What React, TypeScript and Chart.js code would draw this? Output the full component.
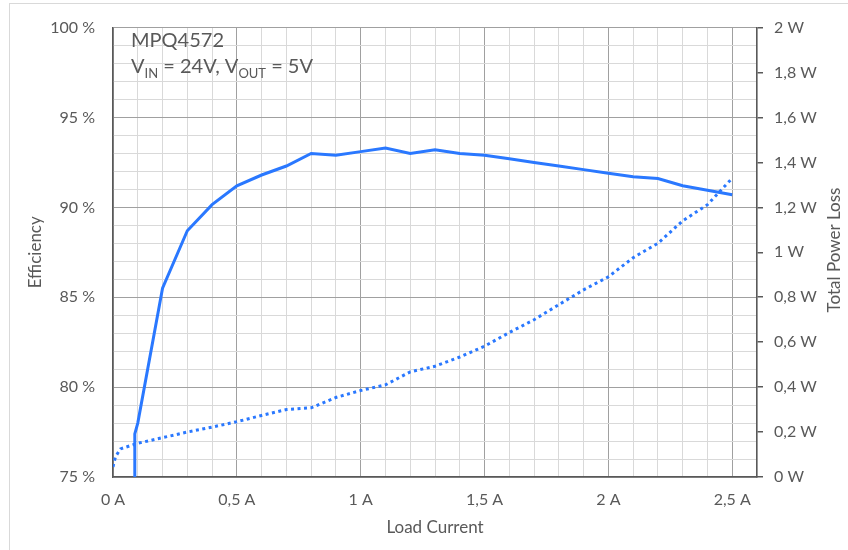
import React, { useEffect, useRef } from 'react';
import { Chart, registerables } from 'chart.js';

Chart.register(...registerables);

// ---- data ----
const effCurrent = [0.085, 0.088, 0.1, 0.2, 0.3, 0.4, 0.5, 0.6, 0.7, 0.8, 0.9, 1.0, 1.1, 1.2, 1.3, 1.4, 1.5, 1.6, 1.7, 1.8, 1.9, 2.0, 2.1, 2.2, 2.3, 2.4, 2.5];
const efficiency = [62, 77.4, 78.0, 85.5, 88.7, 90.15, 91.2, 91.8, 92.3, 93.0, 92.9, 93.1, 93.3, 93.0, 93.2, 93.0, 92.9, 92.7, 92.5, 92.3, 92.1, 91.9, 91.7, 91.6, 91.2, 90.95, 90.7];

const lossCurrent = [0, 0.01, 0.03, 0.1, 0.2, 0.3, 0.4, 0.5, 0.6, 0.7, 0.8, 0.9, 1.0, 1.1, 1.2, 1.3, 1.4, 1.5, 1.6, 1.7, 1.8, 1.9, 2.0, 2.1, 2.2, 2.3, 2.4, 2.5];
const powerLoss = [0.045, 0.09, 0.125, 0.15, 0.175, 0.2, 0.222, 0.246, 0.274, 0.3, 0.308, 0.354, 0.385, 0.41, 0.468, 0.493, 0.534, 0.582, 0.643, 0.7, 0.767, 0.833, 0.891, 0.976, 1.04, 1.14, 1.212, 1.33];

const titleMain = 'MPQ4572';
const xTitle = 'Load Current';
const yTitle = 'Efficiency';
const y1Title = 'Total Power Loss';

const FONT = 'Lato, "Open Sans", sans-serif';
const TXT = '#595959';
const AXIS = '#595959';
const MAJOR = '#a0a0a0';
const MINOR = '#d9d9d9';
const BLUE = '#2a78ff';

const isMult = (v: number, m: number) => Math.abs(v / m - Math.round(v / m)) < 1e-6;
const fmt = (v: number) => String(Math.round(v * 100) / 100).replace('.', ',');

const decorPlugin = {
  id: 'decor',
  beforeDraw(chart: any) {
    const ctx = chart.ctx;
    ctx.save();
    ctx.strokeStyle = '#d9d9d9';
    ctx.lineWidth = 1;
    ctx.strokeRect(9.5, 3.5, 900, 600);
    ctx.restore();
  },
  afterDraw(chart: any) {
    const ctx = chart.ctx;
    ctx.save();
    ctx.fillStyle = TXT;
    ctx.textBaseline = 'alphabetic';
    ctx.textAlign = 'left';
    ctx.font = `20px ${FONT}`;
    ctx.fillText(titleMain, 131, 47);
    // V_IN = 24V, V_OUT = 5V
    let x = 131;
    const big = `20px ${FONT}`;
    const small = `13px ${FONT}`;
    const parts: [string, boolean][] = [['V', false], ['IN', true], [' = 24V, V', false], ['OUT', true], [' = 5V', false]];
    for (const [t, sub] of parts) {
      ctx.font = sub ? small : big;
      ctx.fillText(t, x, sub ? 78 : 73);
      x += ctx.measureText(t).width;
    }
    // right axis title
    ctx.font = `17px ${FONT}`;
    ctx.translate(835, 250);
    ctx.rotate(-Math.PI / 2);
    ctx.textAlign = 'center';
    ctx.textBaseline = 'middle';
    ctx.fillText(y1Title, 0, 0);
    ctx.restore();
  },
};

export default function App() {
  const ref = useRef<HTMLCanvasElement | null>(null);
  useEffect(() => {
    if (!ref.current) return;
    const chart = new Chart(ref.current, {
      type: 'line',
      data: {
        datasets: [
          {
            label: 'Efficiency',
            data: effCurrent.map((c, i) => ({ x: c, y: efficiency[i] })),
            borderColor: BLUE,
            borderWidth: 3,
            pointRadius: 0,
            tension: 0,
            yAxisID: 'y',
            fill: false,
          },
          {
            label: 'Total Power Loss',
            data: lossCurrent.map((c, i) => ({ x: c, y: powerLoss[i] })),
            borderColor: BLUE,
            borderWidth: 3,
            borderDash: [3, 3.5],
            pointRadius: 0,
            tension: 0,
            yAxisID: 'y1',
            fill: false,
          },
        ],
      },
      options: {
        animation: false,
        responsive: false,
        events: [],
        layout: { padding: { top: 20, left: 0, right: 0, bottom: 0 } },
        plugins: { legend: { display: false }, tooltip: { enabled: false } },
        scales: {
          x: {
            type: 'linear',
            position: 'bottom',
            min: 0,
            max: 2.6,
            ticks: {
              stepSize: 0.1,
              autoSkip: false,
              maxRotation: 0,
              padding: 13,
              color: TXT,
              font: { family: FONT, size: 16 },
              callback: (v: any) => (isMult(Number(v), 0.5) ? `${fmt(Number(v))} A` : ''),
            },
            grid: {
              drawTicks: false,
              lineWidth: 1,
              color: (c: any) => (c.tick && isMult(c.tick.value, 0.5) ? MAJOR : MINOR),
            },
            border: { color: AXIS, width: 1.5 },
            title: { display: true, text: xTitle, color: TXT, font: { family: FONT, size: 17 }, padding: { top: 0, bottom: 12 } },
            afterFit: (s: any) => { s.height = 73; },
          },
          y: {
            type: 'linear',
            position: 'left',
            min: 75,
            max: 100,
            ticks: {
              stepSize: 1,
              autoSkip: false,
              padding: 18,
              color: TXT,
              font: { family: FONT, size: 16 },
              callback: (v: any) => (isMult(Number(v), 5) ? `${v} %` : ''),
            },
            grid: {
              drawTicks: false,
              lineWidth: 1,
              color: (c: any) => (c.tick && isMult(c.tick.value, 5) ? MAJOR : MINOR),
            },
            border: { color: AXIS, width: 1.5 },
            title: { display: true, text: yTitle, color: TXT, font: { family: FONT, size: 17 }, padding: { top: 25, bottom: 0 } },
            afterFit: (s: any) => { s.width = 113; },
          },
          y1: {
            type: 'linear',
            position: 'right',
            min: 0,
            max: 2,
            ticks: {
              stepSize: 0.2,
              autoSkip: false,
              padding: 11,
              color: TXT,
              font: { family: FONT, size: 16 },
              callback: (v: any) => `${fmt(Number(v))} W`,
            },
            grid: { drawOnChartArea: false, drawTicks: true, tickLength: 6, color: AXIS, lineWidth: 1.5 },
            border: { color: AXIS, width: 1.5 },
            afterFit: (s: any) => { s.width = 91; },
          },
        },
      } as any,
      plugins: [decorPlugin],
    });
    return () => chart.destroy();
  }, []);
  return (
    <div style={{ position: 'fixed', left: 0, top: 0, width: 848, height: 550, background: '#fff' }}>
      <canvas ref={ref} width={848} height={550} style={{ width: 848, height: 550 }} />
    </div>
  );
}
